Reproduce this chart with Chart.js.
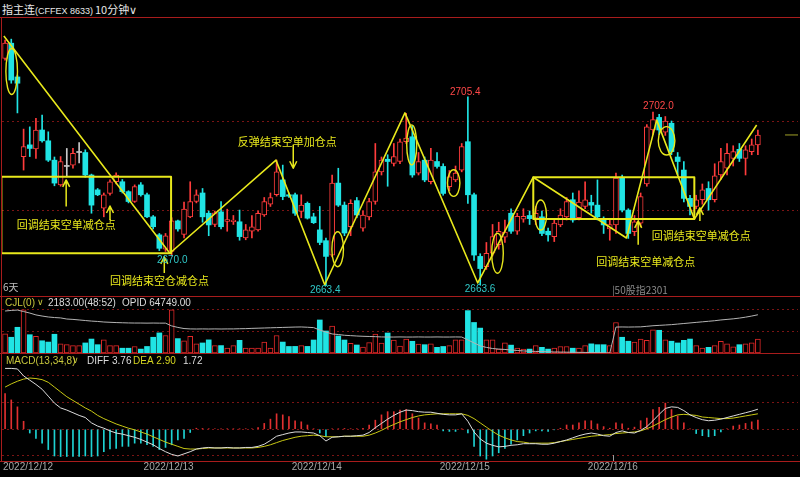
<!DOCTYPE html>
<html>
<head>
<meta charset="utf-8">
<script src="https://cdn.jsdelivr.net/npm/chart.js@4.4.1/dist/chart.umd.min.js"></script>
<style>
  body { margin: 0; background: #000; width: 800px; height: 477px; overflow: hidden; position: relative; }
  canvas { position: absolute; left: 2px; }
  .rule { position: absolute; background: #a81c1c; z-index: 2; }
  #title { position: absolute; left: 2px; top: 1px; height: 16px; display: flex; align-items: baseline;
           color: #e8e8e8; white-space: pre; line-height: 16px; font: 11px "Noto Sans CJK SC"; }
  #title span { display: inline-block; }
</style>
</head>
<body>
<div id="title"><span style="width:33px">指主连</span><span style="width:60px;font:9px 'Liberation Sans'">(CFFEX 8633)</span><span style="width:34px">10分钟</span><span style="font:11px 'DejaVu Sans'">∨</span></div>
<div class="rule" style="left:0;top:17px;width:800px;height:1px"></div>
<div class="rule" style="left:1px;top:17px;width:1px;height:445px"></div>
<div class="rule" style="left:0;top:296px;width:800px;height:1px"></div>
<div class="rule" style="left:0;top:353px;width:800px;height:1px"></div>
<div class="rule" style="left:0;top:461px;width:800px;height:1px"></div>
<canvas id="main" width="796" height="278" style="top:18px"></canvas>
<canvas id="vol" width="796" height="56" style="top:297px"></canvas>
<canvas id="macd" width="796" height="123" style="top:354px"></canvas>
<script>
// 10-minute bars: last 3 bars of 12/09, then five full sessions of 24 bars
const days = ['2022/12/12', '2022/12/13', '2022/12/14', '2022/12/15', '2022/12/16'];
const prevDay = '2022/12/09';
const labels = [...Array(3).fill(prevDay), ...days.flatMap(d => Array(24).fill(d))];
while (labels.length < 129) labels.push('');

const opens = [2713.9,2717.3,2709.8,2692.1,2694.7,2693.8,2698.0,2695.6,2691.3,2685.8,
  2689.9,2690.2,2693.0,2693.0,2688.0,2684.7,2680.6,2683.9,2686.5,2686.5,
  2684.3,2682.1,2685.8,2683.6,2678.7,2674.7,2671.5,2671.0,2677.8,2674.8,
  2678.7,2682.1,2684.0,2679.5,2677.0,2679.8,2677.7,2677.6,2677.6,2674.0,
  2675.5,2675.8,2679.1,2681.5,2683.6,2686.9,2683.6,2683.6,2679.9,2681.7,
  2678.7,2675.8,2673.4,2670.2,2686.2,2681.3,2676.5,2682.3,2676.2,2678.7,
  2682.1,2688.7,2691.5,2690.6,2691.0,2695.4,2696.5,2688.4,2691.3,2686.5,
  2691.0,2689.9,2685.4,2686.9,2689.1,2695.4,2683.6,2669.9,2667.6,2670.6,
  2672.5,2674.2,2679.5,2675.5,2678.2,2679.0,2678.4,2678.7,2675.5,2674.3,
  2676.9,2678.7,2682.5,2678.5,2681.0,2681.9,2681.3,2678.3,2676.0,2676.9,
  2687.5,2680.2,2675.4,2677.3,2686.0,2698.0,2700.8,2697.5,2699.5,2692.0,
  2689.1,2682.8,2681.0,2682.5,2685.0,2682.5,2688.0,2689.5,2691.7,2693.7,
  2691.7,2693.2,2694.7];
const highs = [2718.0,2718.2,2710.2,2698.2,2698.7,2700.6,2701.3,2697.6,2692.0,2692.1,
  2693.9,2693.9,2695.2,2693.6,2688.2,2685.0,2684.0,2686.9,2688.5,2687.0,
  2684.5,2685.8,2686.3,2684.0,2679.0,2675.0,2675.0,2678.5,2678.0,2682.0,
  2686.5,2684.7,2685.0,2680.0,2680.0,2682.1,2680.4,2679.0,2680.2,2677.0,
  2679.0,2680.0,2683.0,2684.0,2691.3,2690.2,2684.0,2684.0,2683.6,2682.0,
  2679.5,2681.0,2674.0,2688.0,2689.5,2682.0,2682.5,2683.0,2680.0,2682.8,
  2695.0,2692.0,2692.5,2695.0,2696.0,2701.7,2699.0,2693.0,2692.0,2693.9,
  2693.0,2690.5,2689.0,2690.0,2695.0,2705.4,2684.0,2670.5,2673.0,2677.0,
  2677.5,2678.0,2680.5,2679.5,2680.5,2680.0,2681.0,2680.0,2676.2,2678.0,
  2680.5,2683.0,2684.0,2684.5,2686.5,2683.5,2686.9,2678.7,2678.0,2688.4,
  2688.0,2680.5,2679.0,2684.0,2699.2,2702.0,2701.5,2701.0,2700.0,2693.0,
  2691.0,2683.5,2683.5,2686.0,2686.5,2690.5,2693.9,2695.0,2694.5,2695.0,
  2694.5,2696.0,2698.0];
const lows = [2713.5,2708.4,2701.8,2689.1,2692.1,2691.7,2695.3,2691.0,2685.6,2685.5,
  2687.6,2689.5,2690.7,2687.5,2679.5,2683.4,2678.7,2683.5,2686.0,2684.0,
  2681.8,2681.9,2683.3,2678.5,2676.0,2671.2,2671.0,2670.0,2675.5,2674.0,
  2678.5,2681.8,2677.5,2674.5,2676.5,2676.0,2675.5,2677.0,2673.5,2673.6,
  2674.0,2675.5,2678.8,2681.0,2683.3,2682.5,2683.0,2679.0,2678.5,2678.2,
  2677.2,2672.5,2663.4,2669.8,2681.0,2674.5,2674.5,2678.5,2675.5,2678.0,
  2681.5,2688.0,2685.5,2690.0,2690.5,2695.0,2687.5,2688.0,2686.5,2686.0,
  2689.5,2683.5,2684.5,2686.5,2688.7,2681.7,2669.0,2663.6,2667.0,2670.0,
  2671.5,2673.0,2675.0,2674.8,2677.5,2677.0,2677.0,2674.5,2673.3,2673.2,
  2676.5,2678.0,2677.5,2678.0,2680.5,2679.5,2678.0,2675.0,2673.5,2675.0,
  2679.8,2673.9,2674.5,2676.5,2685.5,2697.0,2697.0,2696.8,2692.5,2688.0,
  2682.0,2679.1,2680.5,2681.5,2680.2,2682.0,2687.0,2688.0,2690.0,2691.0,
  2688.0,2692.5,2692.5];
const closes = [2717.3,2709.1,2708.4,2694.3,2693.9,2698.0,2695.6,2691.3,2686.2,2691.0,
  2689.9,2692.8,2693.0,2688.0,2681.3,2683.6,2683.6,2686.5,2688.0,2684.3,
  2682.1,2685.4,2683.6,2678.7,2676.5,2671.7,2674.5,2677.8,2676.0,2680.4,
  2682.1,2683.6,2678.7,2676.9,2679.6,2676.5,2678.1,2678.0,2674.3,2675.8,
  2676.5,2679.5,2682.1,2683.0,2688.7,2683.2,2683.3,2679.5,2681.3,2678.4,
  2677.4,2673.0,2669.9,2686.2,2681.3,2675.1,2681.7,2679.1,2679.1,2682.1,
  2688.7,2691.3,2691.0,2692.1,2695.4,2696.2,2688.0,2691.0,2686.9,2691.3,
  2689.9,2683.9,2687.6,2688.4,2694.3,2683.6,2670.2,2667.2,2670.6,2674.3,
  2675.5,2675.3,2675.5,2678.8,2678.8,2678.3,2679.5,2675.0,2674.7,2677.3,
  2679.1,2682.1,2678.0,2682.0,2682.5,2681.3,2678.7,2676.9,2677.0,2687.3,
  2680.2,2675.0,2677.6,2683.2,2698.7,2700.3,2698.0,2700.0,2693.2,2691.0,
  2682.8,2681.0,2682.5,2684.7,2682.5,2687.8,2691.0,2692.8,2693.2,2691.7,
  2693.6,2694.7,2696.9];
const vols = [3000,2460,4020,6750,2860,2590,1910,1710,2930,1430,
  1300,1160,1160,1570,2180,1300,2050,1160,1160,750,
  750,1020,610,1020,2460,3140,2730,6750,2250,1910,
  2590,1430,1570,2050,1160,1160,750,1160,1980,750,
  750,750,1710,750,2730,1710,1020,1030,1140,1030,
  2030,5160,3440,4220,2660,2030,1520,1250,940,1610,
  2970,1560,3125,2030,1090,2190,1830,1410,1300,1430,
  890,1020,1160,2050,2050,6620,4770,3890,2050,2050,
  610,1570,1230,750,610,610,1160,890,610,750,
  1020,1020,750,750,1160,1430,1300,1300,1160,4770,
  2460,1840,1710,2180,1980,3620,3550,2050,1840,1570,
  1980,2180,1160,750,890,1160,1840,1430,950,1300,
  1430,1570,2183];
const opid = [64950,64980,65000,64920,64840,64740,64680,64630,64600,64580,
  64520,64500,64470,64440,64410,64390,64360,64345,64330,64320,
  64310,64305,64305,64300,64305,64300,64300,64150,64070,64010,
  63990,63985,63990,63985,63990,63985,63990,63990,64000,64005,
  64020,64030,64040,64050,64060,64070,64080,64090,64095,64080,
  64060,63930,63820,63720,63690,63650,63630,63610,63595,63585,
  63575,63560,63555,63555,63560,63555,63555,63560,63555,63555,
  63560,63555,63555,63560,63555,63400,63240,63080,63000,62940,
  62910,62890,62860,62835,62810,62795,62785,62775,62765,62755,
  62750,62745,62740,62735,62730,62725,62720,62715,62700,64090,
  64095,64090,64095,64100,64130,64160,64180,64200,64220,64250,
  64280,64310,64340,64370,64400,64430,64470,64500,64530,64570,
  64620,64680,64749];
const diff = [11.4,11.4,11.3,10.0,9.2,8.4,7.5,6.2,4.9,4.0,
  3.6,3.1,2.6,2.2,1.2,0.6,0.2,-0.3,-0.7,-0.9,
  -1.2,-1.5,-1.9,-2.4,-2.9,-3.6,-4.2,-4.7,-5.0,-4.6,
  -4.2,-3.7,-3.5,-3.4,-3.5,-3.5,-3.4,-3.5,-3.5,-3.4,
  -3.4,-3.2,-2.8,-2.1,-1.3,-1.0,-0.7,-0.5,-0.5,-0.6,
  -0.7,-1.2,-2.2,-1.5,-1.4,-1.3,-1.3,-1.2,-1.1,-0.6,
  0.3,1.1,1.9,2.6,3.2,3.6,3.5,3.3,3.2,3.2,
  3.0,2.8,2.7,2.7,2.9,1.5,-0.5,-1.8,-2.6,-3.0,
  -3.3,-3.2,-3.0,-2.9,-2.7,-2.7,-2.7,-2.8,-2.8,-2.6,
  -2.3,-2.0,-1.6,-1.2,-0.9,-0.7,-0.9,-1.2,-1.3,-0.6,
  -0.3,-0.6,-0.7,-0.2,0.5,1.6,2.8,3.9,4.2,4.1,
  3.5,2.7,2.2,1.8,1.6,1.7,1.9,2.2,2.5,2.8,
  3.1,3.4,3.76];
const dea = [7.9,8.5,9.0,9.4,9.6,9.5,9.3,8.8,7.9,7.0,
  6.1,5.4,4.7,4.0,3.4,2.6,2.0,1.5,1.0,0.6,
  0.2,-0.1,-0.5,-0.9,-1.4,-1.9,-2.4,-2.8,-3.2,-3.6,
  -3.7,-3.7,-3.6,-3.5,-3.5,-3.5,-3.5,-3.5,-3.5,-3.5,
  -3.5,-3.4,-3.2,-2.9,-2.5,-2.1,-1.8,-1.5,-1.3,-1.2,
  -1.1,-1.2,-1.4,-1.4,-1.4,-1.3,-1.3,-1.3,-1.3,-1.1,
  -0.7,-0.2,0.4,0.9,1.4,1.8,2.2,2.5,2.7,2.8,
  2.9,2.9,2.9,2.9,2.9,2.6,2.0,1.2,0.4,-0.4,
  -1.1,-1.6,-2.0,-2.3,-2.4,-2.6,-2.6,-2.6,-2.6,-2.5,
  -2.3,-2.1,-1.9,-1.7,-1.5,-1.3,-1.2,-1.1,-1.0,-0.8,
  -0.7,-0.6,-0.5,-0.3,0.1,0.6,1.2,1.8,2.3,2.7,
  2.8,2.7,2.6,2.3,2.2,2.1,2.0,2.0,2.1,2.3,
  2.5,2.7,2.90];
const macd = [6.7,5.5,4.2,1.5,-0.7,-1.7,-2.6,-3.8,-5.0,-5.1,
  -5.1,-5.1,-5.1,-5.0,-5.1,-5.0,-4.2,-3.7,-3.6,-3.2,
  -3.2,-2.6,-2.6,-2.9,-3.2,-3.8,-3.4,-2.9,-2.0,-1.7,
  -0.6,0.2,0.15,0.1,0.1,0.05,0.1,0.1,0.05,0.1,
  0.1,0.3,1.1,1.9,2.9,2.7,2.4,1.6,1.4,0.8,
  0.1,-0.7,-1.4,0.1,0.1,0.15,0.1,0.1,0.2,0.8,
  1.7,2.7,3.3,3.3,3.6,3.7,2.9,2.1,1.2,1.0,
  0.8,-0.3,-0.4,-0.4,0.05,-0.7,-3.2,-5.0,-5.6,-5.0,
  -4.4,-3.6,-2.8,-2.0,-1.2,-0.7,-0.3,-0.3,-0.4,-0.1,
  0.2,0.8,0.8,1.2,1.6,1.6,1.0,0.5,0.2,1.2,
  1.0,0.2,0.4,1.6,2.1,3.7,4.1,4.9,3.7,2.5,
  1.2,0.05,-0.8,-1.2,-1.4,-1.2,-0.5,0.1,0.6,0.8,
  1.1,1.4,1.72];

// grid levels of each panel
const priceGrid = [2680, 2700];
const volGrid = [3420, 6840];
const macdGrid = [-5, 0, 5, 10];

// hand-drawn marks on the price panel, in (bar, price)
const zigzag = [[-0.2, 2718.9], [26.7, 2670.6], [43.9, 2691.3], [51.8, 2663.6], [64.8, 2701.8],
  [76.6, 2664.0], [85.6, 2687.5], [100.7, 2674.0], [105.6, 2700.2], [111.7, 2678.2], [121.8, 2699.1]];
const boxes = [[-0.6, 2687.6, 26.9, 2670.6], [85.6, 2687.5, 111.7, 2678.2]];
const rings = [[1.07, 2711.0, 5.8, 23], [53.9, 2671.5, 5.8, 17.5], [65.9, 2694.7, 5, 20], [72.7, 2686.2, 6.2, 13.3],
  [79.8, 2670.6, 5.8, 20], [86.8, 2679.1, 5.8, 15], [107.2, 2695.6, 8.3, 14.2]];
const arrows = [[9.9, 2686.9, 2681.0], [17.0, 2681.1, 2678.0], [25.8, 2669.8, 2666.2],
  [46.7, 2689.5, 2694.7], [102.6, 2677.8, 2672.5], [112.6, 2680.7, 2677.8]];
const notes = [['回调结束空单减仓点', 1.9, 2676.9], ['回调结束空仓减仓点', 17.0, 2664.5],
  ['反弹结束空单加仓点', 37.7, 2695.3], ['回调结束空单减仓点', 104.8, 2674.5], ['回调结束空单减仓点', 95.8, 2668.7]];
const extremes = [[27, 'low', 24.6, 2669.1], [52, 'low', 49.4, 2662.3], [75, 'high', 72.1, 2706.5],
  [77, 'low', 74.5, 2662.7], [105, 'high', 103.4, 2703.3]];

const RED = '#ff3c3c', CYAN = '#20e4e4', GRAY = '#c8c8c8', YELLOW = '#e8e81c';
const dir = i => Math.sign(closes[i] - opens[i]);
const tone = ctx => [CYAN, GRAY, RED][dir(ctx.dataIndex) + 1];
const fill = ctx => [CYAN, GRAY, '#000'][dir(ctx.dataIndex) + 1];

function baseOptions(min, max, levels, extra) {
  return {
    responsive: false, animation: false, events: [],
    plugins: { legend: { display: false }, tooltip: { enabled: false } },
    scales: Object.assign({
      x: { display: false },
      y: {
        min, max,
        afterBuildTicks: ax => { ax.ticks = levels.map(v => ({ value: v })); },
        afterFit: ax => { ax.width = 0; },
        ticks: { display: false },
        grid: { color: '#7a1414', drawTicks: false },
        border: { display: false, dash: [2, 3] }
      }
    }, extra || {})
  };
}

const mainOverlay = {
  id: 'mainOverlay',
  afterDatasetsDraw(chart) {
    const { ctx, chartArea: area, scales: { x, y } } = chart;
    const X = v => x.getPixelForValue(v), Y = v => y.getPixelForValue(v);
    ctx.save();
    ctx.strokeStyle = YELLOW; ctx.fillStyle = YELLOW; ctx.lineJoin = 'round';
    ctx.lineWidth = 1.6;
    ctx.beginPath();
    zigzag.forEach(([i, p], k) => k ? ctx.lineTo(X(i), Y(p)) : ctx.moveTo(X(i), Y(p)));
    ctx.stroke();
    ctx.lineWidth = 2;
    boxes.forEach(([i0, p0, i1, p1]) => ctx.strokeRect(X(i0), Y(p0), X(i1) - X(i0), Y(p1) - Y(p0)));
    ctx.lineWidth = 1.4;
    rings.forEach(([i, p, rx, ry]) => {
      ctx.beginPath(); ctx.ellipse(X(i), Y(p), rx, ry, 0, 0, 2 * Math.PI); ctx.stroke();
    });
    ctx.lineWidth = 1.5;
    arrows.forEach(([i, tip, tail]) => {
      const ax = X(i), ty = Y(tip), s = Math.sign(Y(tail) - ty);
      ctx.beginPath();
      ctx.moveTo(ax, Y(tail)); ctx.lineTo(ax, ty);
      ctx.moveTo(ax - 3.5, ty + 7 * s); ctx.lineTo(ax, ty); ctx.lineTo(ax + 3.5, ty + 7 * s);
      ctx.stroke();
    });
    ctx.textBaseline = 'middle';
    ctx.font = '11px "Noto Sans CJK SC"';
    notes.forEach(([t, i, p]) => ctx.fillText(t, X(i), Y(p)));
    ctx.font = '10px "Liberation Sans"';
    extremes.forEach(([bar, kind, i, p]) => {
      ctx.fillStyle = kind === 'high' ? '#ff4848' : '#30c8c8';
      ctx.fillText((kind === 'high' ? highs : lows)[bar].toFixed(1), X(i), Y(p));
    });
    // last price tag on the right
    const last = Y(closes[closes.length - 1]);
    ctx.strokeStyle = '#a0a028'; ctx.lineWidth = 1;
    ctx.beginPath(); ctx.moveTo(X(126.4), last); ctx.lineTo(area.right, last); ctx.stroke();
    ctx.fillStyle = '#c0c0c0';
    ctx.font = '10px "Noto Sans CJK SC"';
    ctx.fillText('6天', area.left + 1, area.bottom - 9);
    ctx.fillStyle = '#8c8c8c';
    ctx.fillText('|50股指2301', X(labels.indexOf(days[4]) - 0.5) - 1, area.bottom - 6);
    ctx.restore();
  }
};

function header(ctx, y, parts) {
  ctx.save();
  ctx.textBaseline = 'middle';
  parts.forEach(([t, xp, color, font]) => {
    ctx.font = font || '10px "Liberation Sans"';
    ctx.fillStyle = color;
    ctx.fillText(t, xp, y);
  });
  ctx.restore();
}

const volHeader = {
  id: 'volHeader',
  afterDraw(chart) {
    header(chart.ctx, 6, [
      ['CJL(0)', 3, '#c8c83c'],
      ['∨', 35, '#c8c83c', '9px "DejaVu Sans"'],
      [vols[vols.length - 1].toFixed(2) + '(48:52)', 46, '#dcdcdc'],
      ['OPID ' + opid[opid.length - 1].toFixed(2), 120, '#dcdcdc']
    ]);
  }
};

const macdOverlay = {
  id: 'macdOverlay',
  afterDraw(chart) {
    const { ctx, chartArea: area, scales: { x } } = chart;
    const n = diff.length - 1;
    header(ctx, 7, [
      ['MACD(13,34,8)', 4, '#c8c83c'],
      ['∨', 70, '#c8c83c', '9px "DejaVu Sans"'],
      ['DIFF ' + diff[n].toFixed(2), 85, '#dcdcdc'],
      ['DEA ' + dea[n].toFixed(2), 131, '#d4d420'],
      [macd[n].toFixed(2), 181, '#dcdcdc']
    ]);
    ctx.save();
    ctx.font = '10px "Liberation Sans"';
    ctx.fillStyle = '#a8a8a8';
    ctx.textBaseline = 'middle';
    days.forEach(d => {
      const cx = x.getPixelForValue(labels.indexOf(d) - 0.5);
      const w = ctx.measureText(d).width;
      ctx.fillText(d, Math.max(1, cx - w / 2), 113);
    });
    const sw = Math.round(x.getPixelForValue(labels.indexOf(days[4]) - 0.5)) + 0.5;
    ctx.strokeStyle = '#9a9a9a';
    ctx.beginPath(); ctx.moveTo(sw, area.bottom - 6); ctx.lineTo(sw, area.bottom); ctx.stroke();
    ctx.restore();
  }
};

new Chart(document.getElementById('main'), {
  type: 'bar',
  data: {
    labels,
    datasets: [
      { data: lows.map((l, i) => [l, highs[i]]), backgroundColor: tone, barThickness: 1,
        grouped: false, borderSkipped: false, order: 2 },
      { data: opens.map((o, i) => [o, closes[i]]), backgroundColor: fill, borderColor: RED,
        borderWidth: ctx => dir(ctx.dataIndex) > 0 ? 1 : 0, borderSkipped: false,
        barThickness: 5, minBarLength: 1, grouped: false, order: 1 }
    ]
  },
  options: baseOptions(2661.1, 2722.9, priceGrid),
  plugins: [mainOverlay]
});

new Chart(document.getElementById('vol'), {
  type: 'bar',
  data: {
    labels,
    datasets: [
      { type: 'line', data: opid, yAxisID: 'oi', borderColor: '#b4b4b4', borderWidth: 1,
        pointRadius: 0, order: 0 },
      { data: vols, backgroundColor: ctx => closes[ctx.dataIndex] >= opens[ctx.dataIndex] ? '#000' : CYAN,
        borderColor: '#e02828', borderWidth: ctx => closes[ctx.dataIndex] >= opens[ctx.dataIndex] ? 1 : 0,
        borderSkipped: false, barThickness: 5, order: 1 }
    ]
  },
  options: baseOptions(0, 8750, volGrid, { oi: { display: false, min: 62700, max: 65700 } }),
  plugins: [volHeader]
});

const macdOptions = baseOptions(-5.94, 14.1, macdGrid);
macdOptions.layout = { padding: { bottom: 16 } };
new Chart(document.getElementById('macd'), {
  type: 'bar',
  data: {
    labels,
    datasets: [
      { type: 'line', data: diff, borderColor: '#dcdcdc', borderWidth: 1, pointRadius: 0, order: 0 },
      { type: 'line', data: dea, borderColor: '#c8c814', borderWidth: 1, pointRadius: 0, order: 0 },
      { data: macd, backgroundColor: ctx => macd[ctx.dataIndex] >= 0 ? '#e03030' : '#1ed2d2',
        barThickness: 1, order: 1 }
    ]
  },
  options: macdOptions,
  plugins: [macdOverlay]
});
</script>
</body>
</html>
